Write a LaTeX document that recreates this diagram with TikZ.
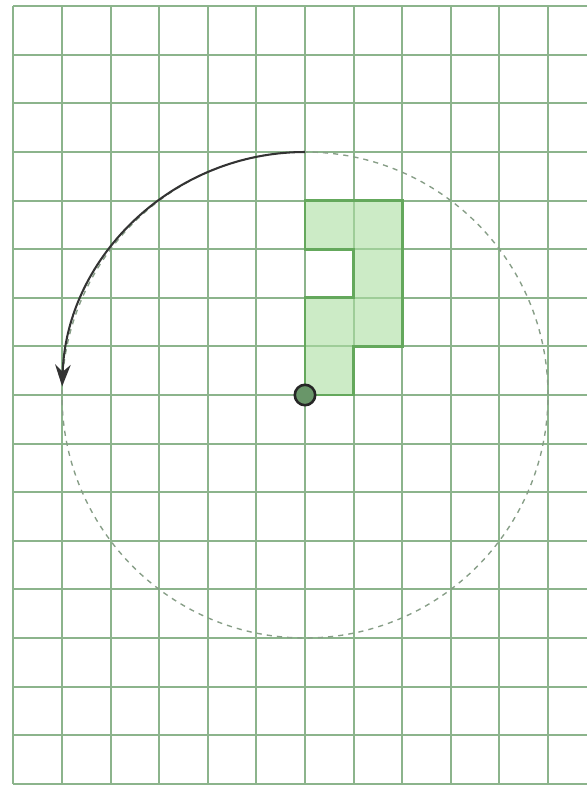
\documentclass[tikz,border=0pt]{standalone}
\usepackage{tikz}
\usetikzlibrary{arrows.meta}
\definecolor{gridgreen}{RGB}{140,180,140}
\definecolor{tilefill}{RGB}{170,222,160}
\definecolor{tileedge}{RGB}{100,168,92}
\definecolor{ringgray}{RGB}{135,158,135}
\definecolor{pivotfill}{RGB}{105,150,105}
\tikzset{tile/.style={draw=tileedge,line width=1.6pt,line join=miter},
  ring/.style={draw=ringgray,dash pattern=on 3pt off 3pt,line width=0.8pt},
  turn/.style={-{Stealth[length=4.5mm,width=3.2mm]},line width=1.2pt,black!80},
  pivot/.style={circle,draw=black!85,fill=pivotfill,line width=1.5pt,inner sep=0pt,minimum size=0.42cm}}
\begin{document}
\begin{tikzpicture}
\useasboundingbox (-6.276,-8.025) rectangle (5.802,8.128);
\fill[white] (-6.276,-8.025) rectangle (5.802,8.128);
% squared paper
\draw[gridgreen,line width=1.1pt] (-6,-8) grid (6,8);
% the piece
\fill[tilefill,opacity=0.6] (0,0) -- (0,2) -- (1,2) -- (1,3) -- (0,3) -- (0,4) -- (2,4) -- (2,1) -- (1,1) -- (1,0) -- cycle;
\draw[tile] (0,0) -- (0,2) -- (1,2) -- (1,3) -- (0,3) -- (0,4) -- (2,4) -- (2,1) -- (1,1) -- (1,0) -- cycle;
% path of the turn
\draw[ring] (0,0) circle[radius=5];
\coordinate (top) at (90:5);
\draw[turn] (top) arc[start angle=90,end angle=178,radius=5];
\node[pivot] (centre) at (0,0) {};
\end{tikzpicture}
\end{document}
